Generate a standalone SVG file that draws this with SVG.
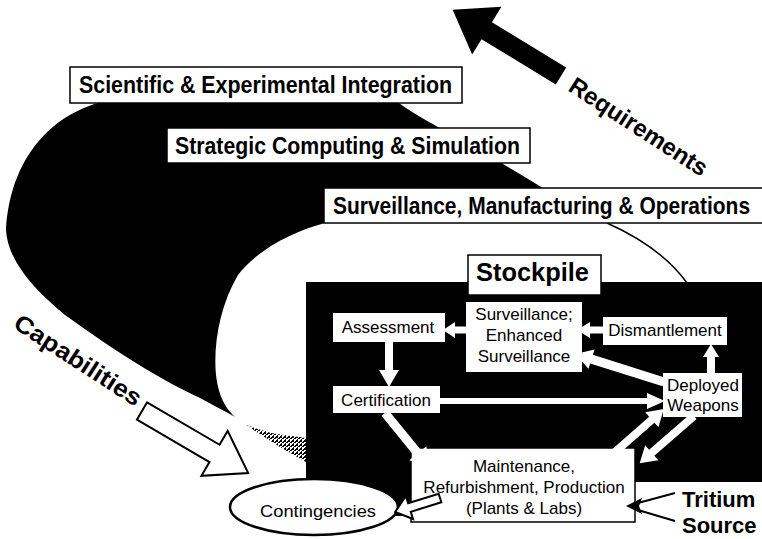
<svg xmlns="http://www.w3.org/2000/svg" width="762" height="539" viewBox="0 0 762 539">
<style>
.bx{fill:#fff;stroke:#000;stroke-width:1.5}
.ib{fill:#fff;stroke:none}
.bl{font-family:"Liberation Sans",Arial,sans-serif;font-weight:bold;fill:#000}
.tx{font-family:"Liberation Sans",Arial,sans-serif;font-size:17px;fill:#000;text-anchor:middle}
.wa{fill:#fff;stroke:none}
.oa{fill:#fff;stroke:#000;stroke-width:2;stroke-linejoin:miter}
</style>
<defs>
<pattern id="stip" width="4" height="4" patternUnits="userSpaceOnUse">
<rect width="4" height="4" fill="#fff"/>
<rect x="0" y="0" width="2" height="2" fill="#000"/>
<rect x="2" y="2" width="2" height="1" fill="#000"/>
<rect x="3" y="1" width="1" height="1" fill="#000"/>
<rect x="1" y="3" width="1" height="1" fill="#000"/>
</pattern>
</defs>
<rect width="762" height="539" fill="#fff"/>

<g id="background">
<path d="M110,100 C50,112 10,160 6,230 C8,262 35,290 65,315 C100,340 150,375 200,398 C240,420 280,440 310,456 L580,212 C540,185 480,150 438,127 C420,117 405,108 395,100 Z" fill="#000"/>
<path d="M340,205 L325,223 C290,232 255,252 238,275 C220,305 213,345 216,375 C219,400 228,415 248,426 C270,434 290,438 310,440 L700,300 L687,283 C672,262 645,240 607,223 L600,205 Z" fill="#fff"/>
<path d="M607,223 C645,240 672,262 687,283" fill="none" stroke="#000" stroke-width="1.5"/>
<polygon points="246,425 270,433 306,438 306,462 280,447" fill="url(#stip)"/>
<rect x="306" y="282" width="456" height="200" fill="#000"/>
<rect x="306" y="480" width="106" height="36" fill="#000"/>
</g>

<g id="n-scientific">
<rect class="bx" x="70" y="67" width="392" height="36"/>
<text class="bl" x="79" y="93" font-size="23" textLength="373" lengthAdjust="spacingAndGlyphs">Scientific &amp; Experimental Integration</text>
</g>
<g id="n-strategic">
<rect class="bx" x="167" y="128" width="363" height="35"/>
<text class="bl" x="175" y="154" font-size="23" textLength="345" lengthAdjust="spacingAndGlyphs">Strategic Computing &amp; Simulation</text>
</g>
<g id="n-smo">
<rect class="bx" x="324" y="188" width="445" height="35"/>
<text class="bl" font-size="23" transform="translate(333,214) scale(0.912,1)">Surveillance, Manufacturing &amp; Operations</text>
</g>
<g id="n-stockpile">
<rect class="bx" x="468" y="255" width="133" height="40"/>
<text class="bl" x="476" y="281" font-size="25" textLength="113" lengthAdjust="spacingAndGlyphs">Stockpile</text>
</g>

<g id="n-assessment">
<rect class="ib" x="333" y="313" width="112" height="29"/>
<text class="tx" x="388" y="333">Assessment</text>
</g>
<g id="n-certification">
<rect class="ib" x="333" y="386" width="107" height="27"/>
<text class="tx" x="386" y="406">Certification</text>
</g>
<g id="n-surveillance">
<rect class="ib" x="466" y="302" width="116" height="70"/>
<text class="tx" x="524" y="320">Surveillance;</text>
<text class="tx" x="524" y="341">Enhanced</text>
<text class="tx" x="524" y="362">Surveillance</text>
</g>
<g id="n-dismantlement">
<rect class="ib" x="603" y="317" width="124" height="28"/>
<text class="tx" x="665" y="336">Dismantlement</text>
</g>
<g id="n-deployed">
<rect class="ib" x="663" y="373" width="79" height="44"/>
<text class="tx" x="703" y="391">Deployed</text>
<text class="tx" x="703" y="411">Weapons</text>
</g>
<g id="n-maintenance">
<rect class="bx" x="411" y="448" width="224" height="74"/>
<text class="tx" x="524" y="472">Maintenance,</text>
<text class="tx" x="524" y="493">Refurbishment, Production</text>
<text class="tx" x="524" y="514">(Plants &amp; Labs)</text>
</g>
<g id="n-contingencies">
<ellipse cx="314" cy="507" rx="84" ry="28" fill="#fff" stroke="#000" stroke-width="2.5"/>
<text class="tx" x="318" y="517" font-size="18" textLength="116" lengthAdjust="spacingAndGlyphs">Contingencies</text>
</g>
<g id="n-tritium">
<text class="bl" x="682" y="507" font-size="22">Tritium</text>
<text class="bl" x="682" y="533" font-size="22">Source</text>
</g>
<g id="n-requirements">
<text class="bl" font-size="24" transform="translate(567,90) rotate(33)" textLength="160" lengthAdjust="spacingAndGlyphs">Requirements</text>
</g>
<g id="n-capabilities">
<text class="bl" font-size="24" transform="translate(12,327) rotate(33)" textLength="147" lengthAdjust="spacingAndGlyphs">Capabilities</text>
</g>

<g id="connectors">
<polygon fill="#000" transform="translate(561,76) rotate(211.4)" points="0,-10 87,-10 87,-28 127,0 87,28 87,10 0,10"/>
<polygon class="oa" transform="translate(142,411) rotate(30.3)" points="0,-10 84,-10 84,-26 123,0 84,26 84,10 0,10"/>
<polygon class="wa" transform="translate(468,330) rotate(180)" points="0,-3.5 13,-3.5 13,-8 25,0 13,8 13,3.5 0,3.5"/>
<polygon class="wa" transform="translate(604,330) rotate(180)" points="0,-3.5 14,-3.5 14,-8 27,0 14,8 14,3.5 0,3.5"/>
<polygon class="wa" transform="translate(389,341) rotate(90)" points="0,-4 29,-4 29,-10 46,0 29,10 29,4 0,4"/>
<polygon class="wa" transform="translate(711,374) rotate(-90)" points="0,-4 17,-4 17,-8 30,0 17,8 17,4 0,4"/>
<polygon class="wa" transform="translate(664,382) rotate(197.5)" points="0,-4.5 76,-4.5 76,-10 93,0 76,10 76,4.5 0,4.5"/>
<polygon class="wa" transform="translate(440,401) rotate(0)" points="0,-3 207,-3 207,-8 225,0 207,8 207,3 0,3"/>
<polygon class="wa" transform="translate(385,413) rotate(50.8)" points="0,-4.5 52,-4.5 52,-11 70,0 52,11 52,4.5 0,4.5"/>
<polygon class="wa" transform="translate(615,452) rotate(-41.3)" points="0,-4 49,-4 49,-10 65,0 49,10 49,4 0,4"/>
<polygon class="wa" transform="translate(694,416) rotate(139)" points="0,-4 56,-4 56,-10 72,0 56,10 56,4 0,4"/>
<polygon class="oa" stroke-width="1.8" transform="translate(440,498) rotate(162.7)" points="0,-4.5 32,-4.5 32,-12 47,0 32,12 32,4.5 0,4.5"/>
<line x1="675" y1="493" x2="638" y2="503" stroke="#000" stroke-width="2"/>
<line x1="675" y1="521" x2="638" y2="510" stroke="#000" stroke-width="2"/>
<polygon points="626,506 642,498 639,506 642,514" fill="#000"/>
</g>
</svg>
